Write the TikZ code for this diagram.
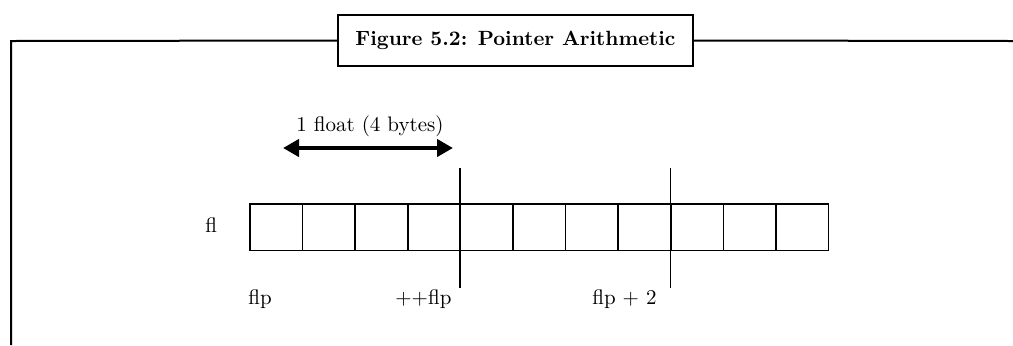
\documentclass[tikz,border=0pt]{standalone}
\usetikzlibrary{arrows.meta}
\tikzset{
  cell/.style={draw, line width=0.75pt, minimum width=26.3pt, minimum height=23.3pt, inner sep=0pt},
  lbl/.style={inner sep=0pt, anchor=base west, font=\fontsize{10.5}{12}\selectfont},
  titlebox/.style={draw, line width=1pt, minimum width=177.5pt, minimum height=25.5pt, inner sep=0pt, font=\fontsize{10.3}{12}\selectfont\bfseries}
}
\begin{document}
\begin{tikzpicture}[x=0.5pt, y=-0.5pt]
      \useasboundingbox (0,0) rectangle (1013,345);
      \node[titlebox] (title) at (515.5,40.5) {Figure 5.2: Pointer Arithmetic};
      \coordinate (fbot) at (11,345);
      \coordinate (fcorner) at (11,41);
      \coordinate (fright) at (1013,41);
      \draw[line width=1pt] (fbot) -- (fcorner) -- (title.west);
      \draw[line width=1pt] (title.east) -- (fright);
      \draw
        (276.3,227.3) node[cell] (c0){}
        (328.9,227.3) node[cell] (c1){}
        (381.5,227.3) node[cell] (c2){}
        (434.1,227.3) node[cell] (c3){}
        (486.7,227.3) node[cell] (c4){}
        (539.3,227.3) node[cell] (c5){}
        (591.9,227.3) node[cell] (c6){}
        (644.5,227.3) node[cell] (c7){}
        (697.1,227.3) node[cell] (c8){}
        (749.7,227.3) node[cell] (c9){}
        (802.3,227.3) node[cell] (c10){};
      \node[lbl] (fl) at (205,232) {fl};
      \node[lbl] (flp) at (248,304) {flp};
      \node[lbl] (incflp) at (395,304) {++flp};
      \node[lbl] (flptwo) at (592,304) {flp + 2};
      \node[lbl, anchor=base] (size) at (370,131) {1 float (4 bytes)};
      \coordinate (a1) at (283,148);
      \coordinate (a2) at (453,148);
      \coordinate (m1top) at (460,168);
      \coordinate (m1bot) at (460,288);
      \coordinate (m2top) at (670.7,168);
      \coordinate (m2bot) at (670.7,288);
      \begin{scope}[line width=0.65pt]
        \draw (m1top) to (m1bot);
        \draw (m2top) to (m2bot);
      \end{scope}
      \draw[line width=2pt, {Triangle[length=8pt,width=8.5pt]}-{Triangle[length=8pt,width=8.5pt]}] (a1) to (a2);
    \end{tikzpicture}
\end{document}
